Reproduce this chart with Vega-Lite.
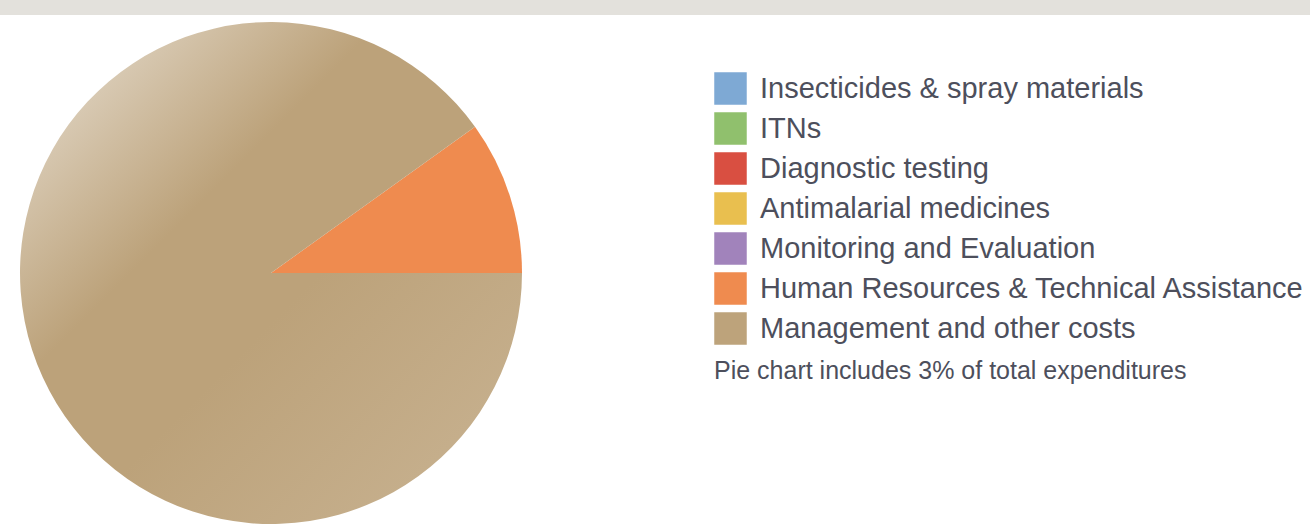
{
  "$schema": "https://vega.github.io/schema/vega-lite/v6.json",
  "width": 1310,
  "height": 512,
  "autosize": {"type": "none"},
  "padding": {"top": 15, "left": 0, "right": 0, "bottom": 0},
  "background": "#e3e1dc",
  "view": {"fill": "white", "stroke": null},
  "config": {
    "font": "Liberation Sans"
  },
  "data": {
    "values": [
      {"category": "Insecticides & spray materials", "share": 0},
      {"category": "ITNs", "share": 0},
      {"category": "Diagnostic testing", "share": 0},
      {"category": "Antimalarial medicines", "share": 0},
      {"category": "Monitoring and Evaluation", "share": 0},
      {"category": "Human Resources & Technical Assistance", "share": 9.9},
      {"category": "Management and other costs", "share": 90.1}
    ]
  },
  "mark": {"type": "arc", "x": 271, "y": 258, "outerRadius": 251, "stroke": null},
  "encoding": {
    "theta": {
      "field": "share",
      "type": "quantitative",
      "stack": true,
      "scale": {"range": [0.949, 7.232]}
    },
    "color": {
      "field": "category",
      "type": "nominal",
      "condition": {
        "test": "datum.category === 'Management and other costs'",
        "value": {
          "gradient": "linear",
          "x1": 0, "y1": 0, "x2": 1, "y2": 1,
          "stops": [
            {"offset": 0, "color": "#e8dfcf"},
            {"offset": 0.15, "color": "#d7c8b1"},
            {"offset": 0.36, "color": "#bca27a"},
            {"offset": 0.55, "color": "#bca27a"},
            {"offset": 0.85, "color": "#c5ae8b"},
            {"offset": 1, "color": "#c9b292"}
          ]
        }
      },
      "scale": {
        "domain": [
          "Insecticides & spray materials",
          "ITNs",
          "Diagnostic testing",
          "Antimalarial medicines",
          "Monitoring and Evaluation",
          "Human Resources & Technical Assistance",
          "Management and other costs"
        ],
        "range": ["#7ea9d4", "#90c06d", "#d94f41", "#e9bf4f", "#a183bb", "#ef8b4f", "#bda37b"]
      },
      "legend": {
        "orient": "none",
        "legendX": 714,
        "legendY": 57,
        "padding": 0,
        "title": "Pie chart includes 3% of total expenditures",
        "titleOrient": "bottom",
        "titleFontSize": 25,
        "titleFontWeight": "normal",
        "titleColor": "#4d4f5c",
        "titlePadding": 14,
        "titleLimit": 800,
        "symbolType": "square",
        "symbolSize": 1056,
        "symbolStrokeWidth": 0,
        "symbolOpacity": 1,
        "labelFontSize": 29,
        "labelColor": "#4d4f5c",
        "labelOffset": 13,
        "labelLimit": 800,
        "rowPadding": 7
      }
    },
    "order": {"field": "share", "sort": "ascending"}
  }
}
